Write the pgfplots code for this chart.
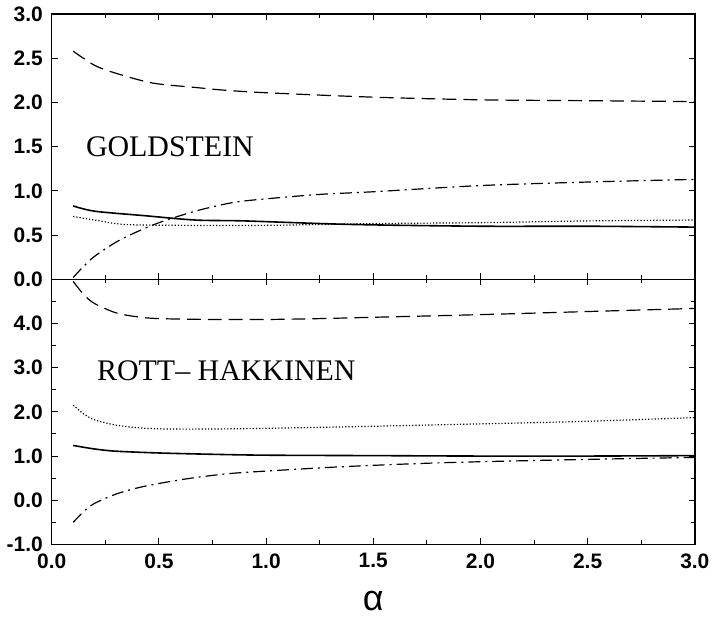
\documentclass[border=0pt]{standalone}
\usepackage{pgfplots}
\pgfplotsset{compat=1.18}
\usepackage{fontspec}
\setmainfont{Liberation Sans}
\newfontfamily\serif{Liberation Serif}

\begin{document}
\begin{tikzpicture}
\pgfplotsset{
  panel/.style={
    width=322.5pt, height=133pt, scale only axis,
    xmin=0, xmax=3, xtick={0,0.5,...,3}, minor x tick num=1,
    tick align=inside, major tick length=3pt, minor tick length=2pt,
    axis line style={line width=0.7pt},
    tick style={black, line width=0.5pt},
    every tick label/.append style={font=\bfseries\fontsize{10.5}{11}\selectfont},
    yticklabel style={xshift=-1pt},
    xticklabel style={yshift=-1pt},
    /pgf/number format/fixed,
    /pgf/number format/fixed zerofill,
    /pgf/number format/precision=1,
    /pgf/number format/assume math mode=true,
  },
  ldash/.style={black, line width=0.6pt, dash pattern=on 7pt off 3.5pt, smooth},
  ldashdot/.style={black, line width=0.6pt, dash pattern=on 6pt off 2.5pt on 1pt off 2.5pt, smooth},
  ldot/.style={black, line width=0.6pt, dash pattern=on 0.6pt off 1pt, smooth},
  lsolid/.style={black, line width=0.8pt, smooth},
}

% lower panel: Rott-Hakkinen
\begin{axis}[panel, name=bot,
    ymin=-1, ymax=5, ytick={-1,0,...,4}, minor ytick={-0.5,0.5,...,4.5},
    xlabel={\fontsize{18}{18}\selectfont α},
    xlabel style={at={(axis description cs:0.5,-0.215)}, anchor=center},
]
\addplot[ldash] coordinates {
  (0.1,4.95) (0.15,4.65) (0.2,4.45) (0.3,4.24) (0.4,4.15) (0.5,4.11)
  (0.75,4.09) (1.0,4.09) (1.25,4.11) (1.5,4.14) (2.0,4.2) (2.5,4.27) (3.0,4.34)
};
\addplot[ldot] coordinates {
  (0.1,2.15) (0.15,1.95) (0.2,1.82) (0.3,1.7) (0.43,1.63) (0.6,1.61)
  (0.9,1.62) (1.36,1.66) (1.83,1.71) (2.45,1.78) (3.0,1.87)
};
\addplot[lsolid] coordinates {
  (0.1,1.24) (0.2,1.16) (0.3,1.11) (0.5,1.07) (0.75,1.04) (1.0,1.02)
  (1.5,1.01) (2.0,1.0) (2.5,1.0) (3.0,1.01)
};
\addplot[ldashdot] coordinates {
  (0.1,-0.5) (0.15,-0.25) (0.2,-0.07) (0.3,0.14) (0.4,0.28) (0.5,0.38)
  (0.65,0.5) (0.82,0.6) (1.0,0.66) (1.36,0.76) (1.83,0.85) (2.45,0.92) (3.0,0.97)
};
\node[anchor=west, inner sep=0pt] at (axis cs:0.21,2.94)
  {\serif\fontsize{15}{16}\selectfont ROTT– HAKKINEN};
\end{axis}

% upper panel: Goldstein
\begin{axis}[panel, at={(bot.north west)}, anchor=south west,
    ymin=0, ymax=3, ytick={0,0.5,...,3}, xticklabels={},
]
\addplot[ldash] coordinates {
  (0.1,2.58) (0.2,2.42) (0.3,2.33) (0.47,2.22) (0.67,2.17) (0.8,2.14)
  (1.0,2.11) (1.5,2.06) (2.0,2.03) (2.5,2.02) (3.0,2.01)
};
\addplot[lsolid] coordinates {
  (0.1,0.83) (0.2,0.77) (0.43,0.72) (0.67,0.67) (0.9,0.66) (1.4,0.62)
  (2.0,0.60) (2.5,0.6) (3.0,0.59)
};
\addplot[ldot] coordinates {
  (0.1,0.71) (0.2,0.67) (0.34,0.62) (0.6,0.61) (1.0,0.61) (1.5,0.63)
  (2.0,0.64) (2.5,0.66) (3.0,0.67)
};
\addplot[ldashdot] coordinates {
  (0.1,0.02) (0.15,0.15) (0.2,0.26) (0.3,0.42) (0.4,0.54) (0.5,0.64)
  (0.6,0.72) (0.7,0.79) (0.85,0.87) (1.0,0.91) (1.25,0.96) (1.5,0.99)
  (2.0,1.06) (2.5,1.10) (3.0,1.13)
};
\node[anchor=west, inner sep=0pt] at (axis cs:0.158,1.5)
  {\serif\fontsize{15}{16}\selectfont GOLDSTEIN};
\end{axis}
\end{tikzpicture}
\end{document}
